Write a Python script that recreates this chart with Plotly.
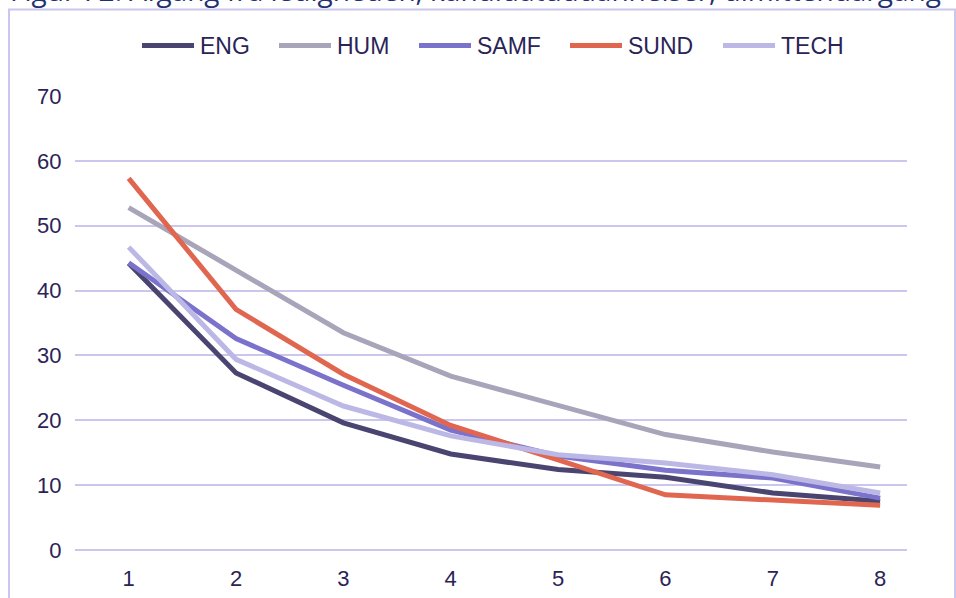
import plotly.graph_objects as go

years = [1, 2, 3, 4, 5, 6, 7, 8]
eng = [44.2, 27.3, 19.6, 14.8, 12.4, 11.2, 8.8, 7.5]
hum = [52.8, 43.1, 33.5, 26.8, 22.3, 17.8, 15.1, 12.8]
samf = [44.3, 32.6, 25.4, 18.5, 14.5, 12.3, 11.1, 8.0]
sund = [57.3, 37.1, 27.1, 19.2, 13.9, 8.5, 7.7, 6.9]
tech = [46.7, 29.4, 22.2, 17.6, 14.7, 13.4, 11.6, 8.8]

series = [
    ("ENG", eng, "#4a4570"),
    ("HUM", hum, "#a8a4b9"),
    ("SAMF", samf, "#7b72cc"),
    ("SUND", sund, "#e06650"),
    ("TECH", tech, "#bcb8e6"),
]

text_color = "#2a2456"
grid_color = "#cbc6ee"

# plot area in pixels (left, right, top, bottom)
L, R, T, B = 75, 907, 96, 550


def px(x):
    return (x - L) / (R - L)


def py(y):
    return (B - y) / (B - T)


fig = go.Figure()
for name, values, color in series:
    fig.add_trace(
        go.Scatter(
            x=years,
            y=values,
            name=name,
            mode="lines",
            line=dict(color=color, width=5),
            showlegend=False,
        )
    )

# legend drawn by hand: long rounded keys like the original
legend_starts = [140, 277, 417, 568, 721]
shapes = []
annotations = []
for (name, _, color), x0 in zip(series, legend_starts):
    shapes.append(
        dict(
            type="line",
            xref="paper",
            yref="paper",
            x0=px(x0 + 2),
            x1=px(x0 + 54),
            y0=py(45.5),
            y1=py(45.5),
            line=dict(color=color, width=5),
        )
    )
    annotations.append(
        dict(
            text=name,
            xref="paper",
            yref="paper",
            x=px(x0 + 58),
            xanchor="left",
            y=py(45.5),
            yanchor="middle",
            showarrow=False,
            font=dict(size=23, color=text_color),
        )
    )

shapes.append(
    dict(
        type="rect",
        xref="paper",
        yref="paper",
        x0=px(9),
        x1=px(955),
        y0=py(700),
        y1=py(9.5),
        line=dict(color=grid_color, width=2),
        fillcolor="rgba(0,0,0,0)",
        layer="below",
    )
)
annotations.append(
    dict(
        text="Figur 72: Afgang fra ledigheden, kandidatuddannelser, dimittendårgang",
        xref="paper",
        yref="paper",
        x=px(8),
        xanchor="left",
        y=py(11),
        yanchor="bottom",
        showarrow=False,
        font=dict(family="Open Sans, sans-serif", size=28, color="#1f3270"),
    )
)

fig.update_layout(
    width=956,
    height=598,
    margin=dict(l=L, r=956 - R, t=T, b=598 - B, autoexpand=False),
    paper_bgcolor="white",
    plot_bgcolor="white",
    font=dict(family="Liberation Sans, Arial, sans-serif", size=22, color=text_color),
    showlegend=False,
    xaxis=dict(
        range=[0.5, 8.25],
        tickvals=years,
        showgrid=False,
        zeroline=False,
        showline=False,
        ticks="outside",
        ticklen=9,
        tickcolor="rgba(0,0,0,0)",
    ),
    yaxis=dict(
        range=[0, 70],
        dtick=10,
        showgrid=True,
        gridcolor=grid_color,
        gridwidth=1.5,
        zeroline=True,
        zerolinecolor=grid_color,
        zerolinewidth=1.5,
        showline=False,
        ticks="outside",
        ticklen=8,
        tickcolor="rgba(0,0,0,0)",
    ),
    shapes=shapes,
    annotations=annotations,
)

fig.write_html(
    "out.html",
    config={"displayModeBar": False},
    post_script="document.body.style.margin = '0';",
)
